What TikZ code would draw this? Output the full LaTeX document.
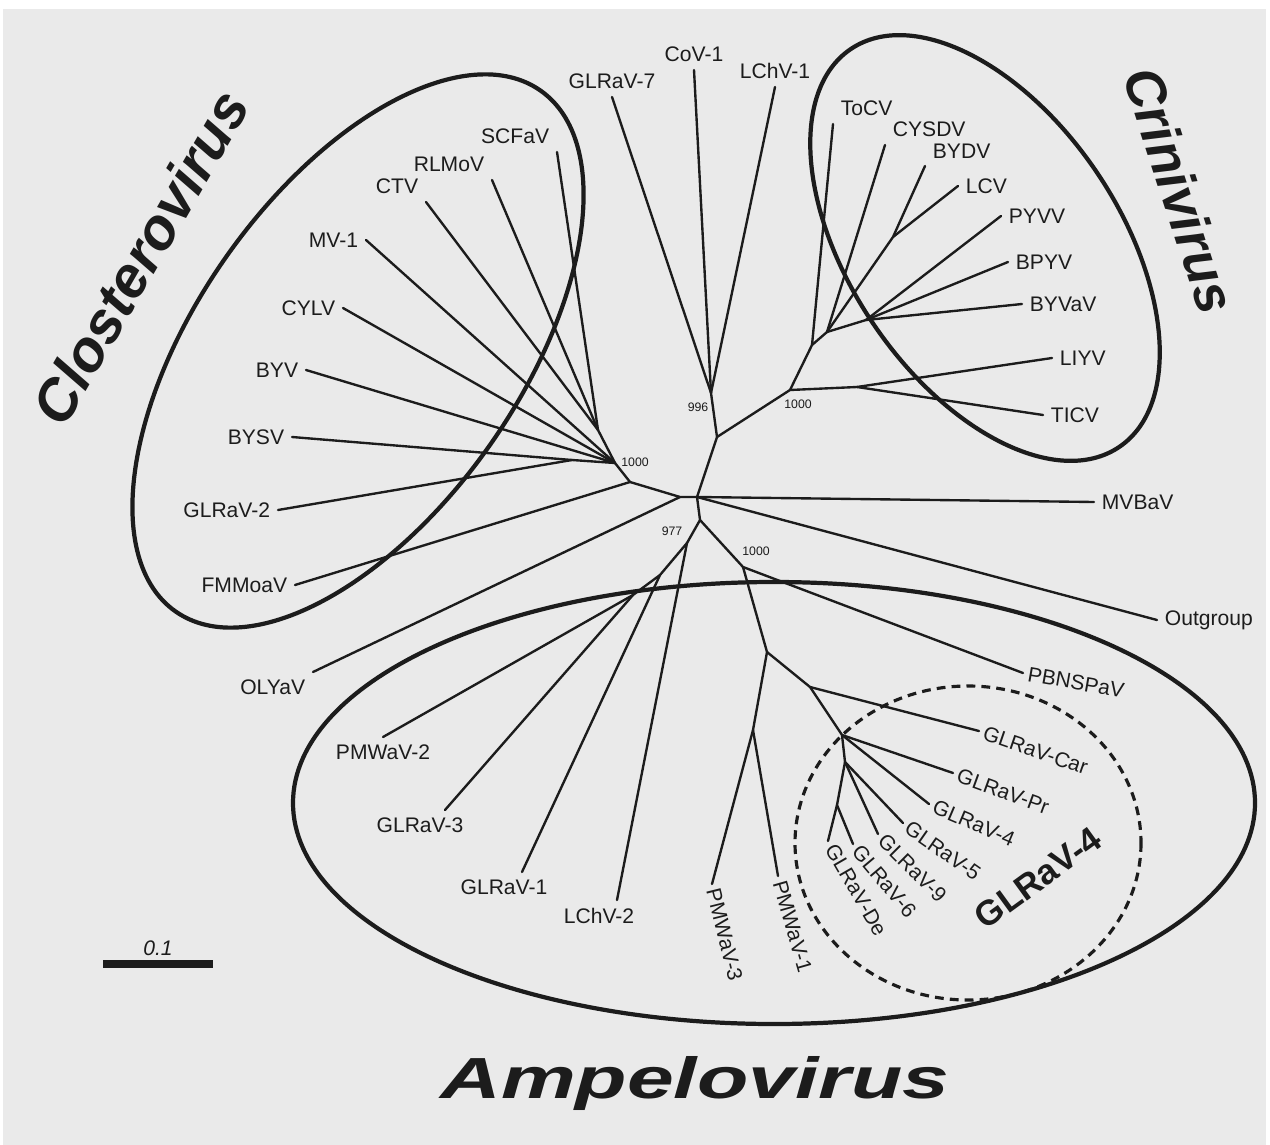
\documentclass[tikz,border=0pt]{standalone}
\usepackage{fontspec}
\setmainfont{Liberation Sans}
\usetikzlibrary{calc}
\definecolor{ScanGrey}{HTML}{EAEAEA}
\definecolor{Ink}{HTML}{1C1C1C}

\begin{document}
\begin{tikzpicture}[x=0.02cm,y=-0.02cm,
      branch/.style={draw=Ink,line width=1.35pt,line cap=round},
      leaf/.style={font=\fontsize{12}{14}\selectfont,text=Ink,inner sep=2pt,outer sep=2.5pt},
      tilted/.style={leaf,inner sep=1pt,outer sep=2pt},
      boot/.style={font=\fontsize{7}{8}\selectfont,text=Ink,inner sep=0pt},
      clade/.style={draw=Ink,line width=2.4pt},
      genus/.style={font=\fontsize{33}{38}\selectfont\bfseries\itshape,text=Ink,inner sep=0pt}]
  \useasboundingbox (0,0) rectangle (1270,1145);
  \fill[ScanGrey] (3,9) rectangle (1266,1145);

  % genus outlines
  \draw[clade,rotate around={55:(358,351)}] (358,351) ellipse (318 and 162);
  \draw[clade,rotate around={-56:(985,248)}] (985,248) ellipse (240 and 135);
  \draw[clade] (774,803) ellipse (481 and 221);
  \draw[draw=Ink,line width=1.8pt,dash pattern=on 5pt off 3.5pt] (968,843) ellipse (173 and 157);

  % inner nodes of the tree
  \coordinate (root) at (697,497);
  \coordinate (top) at (717,437);
  \coordinate (n996) at (711,393);
  \coordinate (cr) at (790,390);
  \coordinate (cr1) at (857,387);
  \coordinate (cr2) at (812,345);
  \coordinate (cr3) at (827,332);
  \coordinate (cr4) at (893,237);
  \coordinate (cr5) at (866,320);
  \coordinate (cl0) at (680,497);
  \coordinate (cl1) at (630,482);
  \coordinate (cl2) at (615,463);
  \coordinate (cl3) at (572,460);
  \coordinate (cl4) at (598,430);
  \coordinate (am0) at (700,520);
  \coordinate (am1) at (687,543);
  \coordinate (am2) at (660,575);
  \coordinate (am3) at (633,595);
  \coordinate (am4) at (743,567);
  \coordinate (am5) at (767,652);
  \coordinate (am6) at (753,730);
  \coordinate (lr1) at (810,687);
  \coordinate (lr2) at (842,735);
  \coordinate (lr3) at (845,762);
  \coordinate (lr4) at (837,805);

  % leaves
  \node[leaf,anchor=south] (glrav7) at (612,97) {GLRaV-7};
  \node[leaf,anchor=south] (cov1) at (694,70) {CoV-1};
  \node[leaf,anchor=south] (lchv1) at (775,87) {LChV-1};
  \node[leaf,anchor=south west] (tocv) at (833,124) {ToCV};
  \node[leaf,anchor=south west] (cysdv) at (885,145) {CYSDV};
  \node[leaf,anchor=south west] (bydv) at (925,166) {BYDV};
  \node[leaf,anchor=west] (lcv) at (958,186) {LCV};
  \node[leaf,anchor=west] (pyvv) at (1001,216) {PYVV};
  \node[leaf,anchor=west] (bpyv) at (1008,262) {BPYV};
  \node[leaf,anchor=west] (byvav) at (1022,304) {BYVaV};
  \node[leaf,anchor=west] (liyv) at (1052,358) {LIYV};
  \node[leaf,anchor=west] (ticv) at (1043,415) {TICV};
  \node[leaf,anchor=west] (mvbav) at (1094,502) {MVBaV};
  \node[leaf,anchor=west] (outg) at (1157,620) {Outgroup};
  \node[tilted,anchor=west,rotate=-10] (pbnspav) at (1023,673) {PBNSPaV};

  \node[leaf,anchor=south east] (scfav) at (557,152) {SCFaV};
  \node[leaf,anchor=south east] (rlmov) at (492,180) {RLMoV};
  \node[leaf,anchor=south east] (ctv) at (426,202) {CTV};
  \node[leaf,anchor=east] (mv1) at (366,240) {MV-1};
  \node[leaf,anchor=east] (cylv) at (343,308) {CYLV};
  \node[leaf,anchor=east] (byv) at (306,370) {BYV};
  \node[leaf,anchor=east] (bysv) at (292,437) {BYSV};
  \node[leaf,anchor=east] (glrav2) at (278,510) {GLRaV-2};
  \node[leaf,anchor=east] (fmmoav) at (295,585) {FMMoaV};
  \node[leaf,anchor=north east] (olyav) at (313,672) {OLYaV};

  \node[leaf,anchor=north] (pmwav2) at (383,737) {PMWaV-2};
  \node[leaf,anchor=north] (glrav3) at (420,810) {GLRaV-3};
  \node[leaf,anchor=north] (glrav1) at (504,872) {GLRaV-1};
  \node[leaf,anchor=north] (lchv2) at (599,900) {LChV-2};
  \node[tilted,anchor=west,rotate=-76] (pmwav3) at (712,884) {PMWaV-3};
  \node[tilted,anchor=west,rotate=-74] (pmwav1) at (778,876) {PMWaV-1};
  \node[tilted,anchor=west,rotate=-19] (car) at (979,731) {GLRaV-Car};
  \node[tilted,anchor=west,rotate=-20] (pr) at (953,773) {GLRaV-Pr};
  \node[tilted,anchor=west,rotate=-23] (gl4) at (929,804) {GLRaV-4};
  \node[tilted,anchor=west,rotate=-35] (gl5) at (903,823) {GLRaV-5};
  \node[tilted,anchor=west,rotate=-45] (gl9) at (878,834) {GLRaV-9};
  \node[tilted,anchor=west,rotate=-50] (gl6) at (853,844) {GLRaV-6};
  \node[tilted,anchor=west,rotate=-60] (de) at (828,841) {GLRaV-De};

  % branches
  \draw[branch] (root) -- (mvbav.west);
  \draw[branch] (root) -- (outg.west);
  \draw[branch] (root) -- (top) -- (n996);
  \foreach \lf in {glrav7,cov1,lchv1}
    \draw[branch] (n996) -- (\lf.south);
  \draw[branch] (top) -- (cr) -- (cr1);
  \foreach \lf in {liyv,ticv}
    \draw[branch] (cr1) -- (\lf.west);
  \draw[branch] (cr) -- (cr2) -- (cr3);
  \draw[branch] (cr2) -- (tocv.south west);
  \draw[branch] (cr3) -- (cysdv.south west);
  \draw[branch] (cr3) -- (cr4) -- (bydv.south west);
  \draw[branch] (cr4) -- (lcv.west);
  \draw[branch] (cr3) -- (cr5);
  \foreach \lf in {pyvv,bpyv,byvav}
    \draw[branch] (cr5) -- (\lf.west);

  \draw[branch] (root) -- (cl0) -- (cl1) -- (cl2);
  \draw[branch] (cl0) -- (olyav.north east);
  \draw[branch] (cl1) -- (fmmoav.east);
  \draw[branch] (cl2) -- (cl3);
  \foreach \lf in {bysv,glrav2}
    \draw[branch] (cl3) -- (\lf.east);
  \foreach \lf in {byv,cylv,mv1}
    \draw[branch] (cl2) -- (\lf.east);
  \draw[branch] (cl2) -- (cl4);
  \foreach \lf in {ctv,rlmov,scfav}
    \draw[branch] (cl4) -- (\lf.south east);

  \draw[branch] (root) -- (am0) -- (am1);
  \draw[branch] (am1) -- ([xshift=0.36cm]lchv2.north);
  \draw[branch] (am1) -- (am2) -- ([xshift=0.36cm]glrav1.north);
  \draw[branch] (am2) -- (am3) -- ([xshift=0.5cm]glrav3.north);
  \draw[branch] (am3) -- (pmwav2.north);
  \draw[branch] (am0) -- (am4) -- (pbnspav.west);
  \draw[branch] (am4) -- (am5) -- (am6) -- (pmwav3.west);
  \draw[branch] (am6) -- (pmwav1.west);
  \draw[branch] (am5) -- (lr1) -- (car.west);
  \draw[branch] (lr1) -- (lr2) -- (pr.west);
  \draw[branch] (lr2) -- (gl4.west);
  \draw[branch] (lr2) -- (lr3) -- (gl5.west);
  \draw[branch] (lr3) -- (gl9.west);
  \draw[branch] (lr3) -- (lr4) -- (gl6.west);
  \draw[branch] (lr4) -- (de.west);

  % bootstrap values
  \node[boot] (b996) at (698,407) {996};
  \node[boot] (bcl) at (635,462) {1000};
  \node[boot] (bcr) at (798,404) {1000};
  \node[boot] (b977) at (672,531) {977};
  \node[boot] (bam) at (756,551) {1000};

  % genus names
  \node[genus,rotate=60] (closter) at (140,257) {Closterovirus};
  \node[genus,font=\fontsize{31}{36}\selectfont\bfseries\itshape,rotate=-72] (crini) at (1180,190) {Crinivirus};
  \node[genus,xscale=1.45] (ampelo) at (695,1083) {Ampelovirus};
  \node[font=\fontsize{20}{24}\selectfont\bfseries,text=Ink,rotate=36] (glr4) at (1038,878) {GLRaV-4};

  % scale bar
  \draw[draw=Ink,line width=5pt] (103,964) -- (213,964);
  \node[font=\fontsize{12}{14}\selectfont\itshape,text=Ink,inner sep=0pt] (scalelab) at (158,948) {0.1};
\end{tikzpicture}
\end{document}
